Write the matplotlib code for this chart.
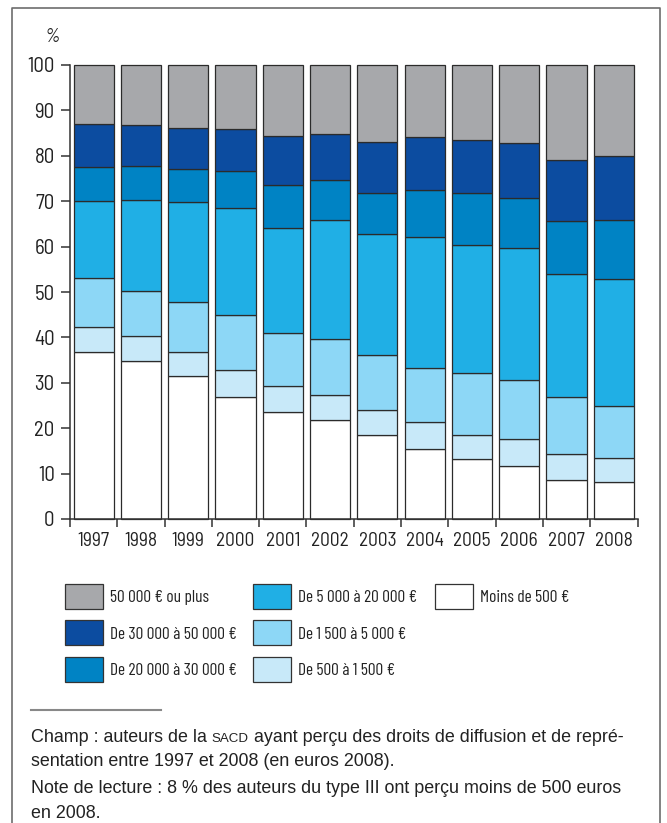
import numpy as np
import matplotlib
matplotlib.use("Agg")
import matplotlib.pyplot as plt
from matplotlib import font_manager as fm
from matplotlib.lines import Line2D

# repartition des auteurs par tranche de droits percus (%)
annees = ["1997", "1998", "1999", "2000", "2001", "2002",
          "2003", "2004", "2005", "2006", "2007", "2008"]
moins_500 = [36.8, 34.9, 31.4, 26.9, 23.5, 21.7, 18.5, 15.4, 13.3, 11.7, 8.7, 8.1]
de_500_1500 = [5.6, 5.5, 5.4, 6.0, 5.9, 5.6, 5.6, 6.0, 5.3, 6.0, 5.7, 5.4]
de_1500_5000 = [10.7, 9.8, 10.9, 12.1, 11.6, 12.4, 12.1, 11.9, 13.5, 13.0, 12.5, 11.3]
de_5000_20000 = [16.9, 20.1, 22.2, 23.5, 23.1, 26.2, 26.5, 28.8, 28.3, 29.1, 27.1, 28.1]
de_20000_30000 = [7.5, 7.5, 7.3, 8.1, 9.4, 8.7, 9.1, 10.4, 11.4, 10.8, 11.6, 13.0]
de_30000_50000 = [9.4, 9.0, 9.0, 9.4, 10.9, 10.1, 11.2, 11.6, 11.7, 12.2, 13.5, 14.0]
plus_50000 = [13.1, 13.2, 13.8, 14.0, 15.6, 15.3, 17.0, 15.9, 16.5, 17.2, 20.9, 20.1]

series = [moins_500, de_500_1500, de_1500_5000, de_5000_20000,
          de_20000_30000, de_30000_50000, plus_50000]
fin = "\u2009"  # espace fine dans les montants
libelles = ["Moins de 500 €", f"De 500 à 1{fin}500 €", f"De 1{fin}500 à 5{fin}000 €",
            f"De 5{fin}000 à 20{fin}000 €", f"De 20{fin}000 à 30{fin}000 €",
            f"De 30{fin}000 à 50{fin}000 €", f"50{fin}000 € ou plus"]
couleurs = ["#ffffff", "#c8e9f9", "#8dd7f6", "#20afe5",
            "#0083c4", "#0c4ca0", "#a7a8ab"]

# polices etroites (type Helvetica condensed) si disponibles
noms = set(f.name for f in fm.fontManager.ttflist)

def choisir(liste):
    for c in liste:
        if c in noms:
            return c
    return "DejaVu Sans"

police_axes = choisir(["Barlow Semi Condensed", "Barlow Condensed", "Roboto Condensed"])
police_leg = choisir(["Barlow Condensed", "Roboto Condensed"])
plt.rcParams["font.family"] = [police_axes, "DejaVu Sans"]

W, H = 667, 823
fig = plt.figure(figsize=(W / 100, H / 100), dpi=100)

def fx(px):
    return px / W

def fy(py):
    return 1 - py / H

ax = fig.add_axes([fx(70), fy(519), fx(637.5) - fx(70), fy(65) - fy(519)])

x = np.arange(len(annees))
bas = np.zeros(len(annees))
barres = []
for vals, lab, col in zip(series, libelles, couleurs):
    b = ax.bar(x, vals, 0.85, bottom=bas, color=col, edgecolor="#2b2b2b",
               linewidth=0.9, label=lab, clip_on=False)
    barres.append(b)
    bas += np.array(vals)

ax.set_xlim(-0.5, len(annees) - 0.5)
ax.set_ylim(0, 100)
ax.set_yticks(np.arange(0, 101, 10))
ax.set_xticks(x)
ax.set_xticklabels(annees)
ax.set_xticks(np.arange(-0.5, len(annees), 1), minor=True)
ax.tick_params(axis="x", which="major", length=0, pad=9.5, labelsize=14, colors="#222")
ax.tick_params(axis="x", which="minor", length=6, width=1.1, color="#333")
ax.tick_params(axis="y", length=6.5, width=1.1, pad=4.5, labelsize=15, color="#333",
               labelcolor="#222")
for s in ["top", "right"]:
    ax.spines[s].set_visible(False)
for s in ["left", "bottom"]:
    ax.spines[s].set_linewidth(1.1)
    ax.spines[s].set_color("#333")

fig.text(fx(52), fy(42), "%", style="italic", ha="center", va="baseline",
         fontsize=14, color="#222")

# legende en trois colonnes
colonnes = [[6, 5, 4], [3, 2, 1], [0]]
xs = [65, 253, 435]
for idx, xc in zip(colonnes, xs):
    leg = fig.legend([barres[i] for i in idx], [libelles[i] for i in idx],
                     loc="upper left", bbox_to_anchor=(fx(xc), fy(584)),
                     frameon=False, borderpad=0, borderaxespad=0,
                     prop={"family": [police_leg, "DejaVu Sans"], "size": 12.5},
                     handlelength=2.19, handleheight=1.84,
                     handletextpad=0.4, labelspacing=0.66)
    for t in leg.get_texts():
        t.set_color("#222")
    for p in leg.get_patches():
        p.set_edgecolor("#333")
        p.set_linewidth(0.9)

# cadre et filet
gris = "#6d6d6d"
fig.add_artist(Line2D([fx(12), fx(12), fx(660), fx(660)], [0, fy(8), fy(8), 0],
                      color=gris, lw=1.2))
fig.add_artist(Line2D([fx(31), fx(161)], [fy(710), fy(710)], color="#888", lw=1.5))

# notes
note = dict(family=["Liberation Sans", "DejaVu Sans"], color="#222")
taille = 12.9
fig.canvas.draw()
rend = fig.canvas.get_renderer()
morceaux = [("Champ : auteurs de la ", taille), ("SACD", taille * 0.75),
            (" ayant perçu des droits de diffusion et de repré-", taille)]
xcur = fx(31)
for txt, sz in morceaux:
    t = fig.text(xcur, fy(742), txt, fontsize=sz, va="baseline", **note)
    bb = t.get_window_extent(renderer=rend)
    xcur += bb.width / W
fig.text(fx(31), fy(766), "sentation entre 1997 et 2008 (en euros 2008).",
         fontsize=taille, va="baseline", **note)
fig.text(fx(31), fy(793), "Note de lecture : 8 % des auteurs du type III ont perçu moins de 500 euros",
         fontsize=taille, va="baseline", **note)
fig.text(fx(31), fy(818), "en 2008.", fontsize=taille, va="baseline", **note)

fig.savefig("out.png", dpi=100)
